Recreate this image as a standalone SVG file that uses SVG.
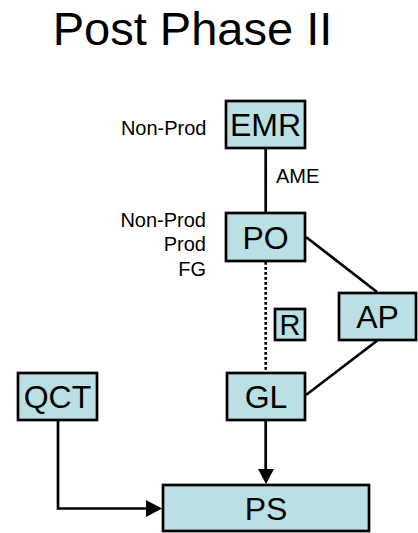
<svg xmlns="http://www.w3.org/2000/svg" width="418" height="533" viewBox="0 0 418 533">
<style>
.box{fill:#BBE0E3;stroke:#000;stroke-width:2.7}
.t{font-family:"Liberation Sans",Arial,sans-serif;fill:#000}
.bl{font-size:32px;text-anchor:middle}
.lab{font-size:20px}
.ln{stroke:#000;stroke-width:2.7;fill:none}
</style>
<rect width="418" height="533" fill="#fff"/>
<text class="t" x="192.5" y="45" font-size="47" text-anchor="middle">Post Phase II</text>
<g id="connectors">
<line class="ln" x1="265.7" y1="149" x2="265.7" y2="212"/>
<line class="ln" x1="306" y1="237" x2="377" y2="292"/>
<line class="ln" x1="378" y1="340" x2="306" y2="395"/>
<line class="ln" x1="265.7" y1="262" x2="265.7" y2="372" stroke-dasharray="2.7 2.3"/>
<line class="ln" x1="265.7" y1="421" x2="265.7" y2="470"/>
<polygon points="258,469 274,469 266,484" fill="#000"/>
<polyline class="ln" points="58,421 58,508.5 147,508.5"/>
<polygon points="146,500 146,517 162,508.5" fill="#000"/>
</g>
<g id="labels">
<text class="t lab" x="206.5" y="135" text-anchor="end">Non-Prod</text>
<text class="t lab" x="276" y="183">AME</text>
<text class="t lab" x="206" y="227" text-anchor="end">Non-Prod</text>
<text class="t lab" x="206" y="251" text-anchor="end">Prod</text>
<text class="t lab" x="206" y="276" text-anchor="end">FG</text>
</g>
<g id="EMR"><rect class="box" x="226" y="101" width="79" height="47"/><text class="t bl" x="265.5" y="136">EMR</text></g>
<g id="PO"><rect class="box" x="226" y="213" width="79" height="48"/><text class="t bl" x="265.5" y="249">PO</text></g>
<g id="AP"><rect class="box" x="339" y="293" width="77" height="47"/><text class="t bl" x="377.5" y="328">AP</text></g>
<g id="R"><rect class="box" x="275" y="309" width="30" height="31"/><text class="t" x="290" y="335" font-size="29" text-anchor="middle">R</text></g>
<g id="QCT"><rect class="box" x="18" y="373" width="79" height="47"/><text class="t bl" x="57.5" y="408">QCT</text></g>
<g id="GL"><rect class="box" x="227" y="373" width="78" height="47"/><text class="t bl" x="266" y="408">GL</text></g>
<g id="PS"><rect class="box" x="163" y="485" width="206" height="46"/><text class="t bl" x="266" y="520">PS</text></g>
</svg>
